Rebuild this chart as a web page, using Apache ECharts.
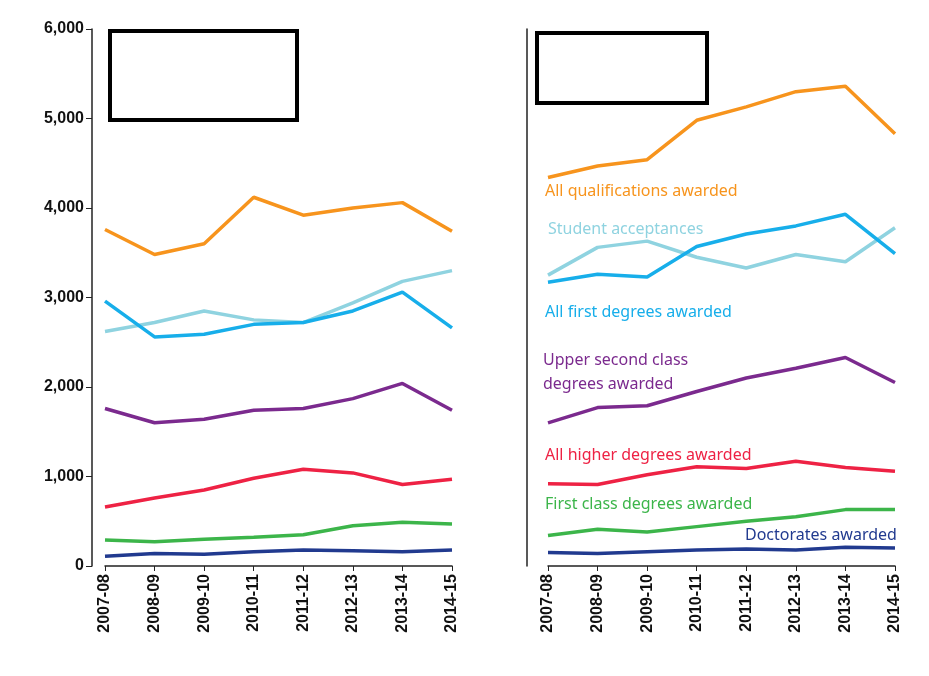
<html>
<head>
<script src="https://cdn.jsdelivr.net/npm/echarts@6/dist/echarts.min.js"></script>
<style>body{margin:0;background:#fff}#chart{width:929px;height:676px}</style>
</head>
<body>
<div id="chart"></div>
<script>
var years = ['2007-08','2008-09','2009-10','2010-11','2011-12','2012-13','2013-14','2014-15'];
var yTicks = [0,1000,2000,3000,4000,5000,6000];
var seriesNames = ['All qualifications awarded','Student acceptances','All first degrees awarded','Upper second class degrees awarded','All higher degrees awarded','First class degrees awarded','Doctorates awarded'];
var colors = ['#f7941d','#8fd3e0','#17aeea','#7b2a8e','#ee2244','#3cb54a','#213a8f'];
// left panel
var leftQual = [3760,3480,3600,4120,3920,4000,4060,3740];
var leftAccept = [2620,2720,2850,2750,2720,2940,3180,3300];
var leftFirst = [2960,2560,2590,2700,2720,2850,3060,2660];
var leftUpper = [1760,1600,1640,1740,1760,1870,2040,1740];
var leftHigher = [660,760,850,980,1080,1040,910,970];
var leftFirstClass = [290,270,300,320,350,450,490,470];
var leftDoct = [110,140,130,160,180,170,160,180];
// right panel
var rightQual = [4340,4470,4540,4980,5130,5300,5360,4830];
var rightAccept = [3250,3560,3630,3450,3330,3480,3400,3780];
var rightFirst = [3170,3260,3230,3570,3710,3800,3930,3490];
var rightUpper = [1600,1770,1790,1950,2100,2210,2330,2050];
var rightHigher = [920,910,1020,1110,1090,1170,1100,1060];
var rightFirstClass = [340,410,380,440,500,550,630,630];
var rightDoct = [150,140,160,180,190,180,210,200];

var leftData = [leftQual,leftAccept,leftFirst,leftUpper,leftHigher,leftFirstClass,leftDoct];
var rightData = [rightQual,rightAccept,rightFirst,rightUpper,rightHigher,rightFirstClass,rightDoct];

var chart = echarts.init(document.getElementById('chart'));
var axisX = function(i){
	return {
		type:'category', gridIndex:i, data:years, boundaryGap:false,
		axisLine:{lineStyle:{color:'#222',width:1.5}},
		axisTick:{show:true,interval:0,lineStyle:{color:'#222'}},
		axisLabel:{rotate:90,fontWeight:'bold',fontSize:16,color:'#111',fontFamily:'Liberation Sans',interval:0}
	};
};
var axisY = function(i,off,labels){
	return {
		type:'value', gridIndex:i, min:0, max:6000, interval:1000, offset:off,
		axisLine:{show:true,lineStyle:{color:'#222',width:1.5}},
		axisTick:{show:labels,length:6,lineStyle:{color:'#222'}},
		splitLine:{show:false},
		axisLabel:{show:labels,fontWeight:'bold',fontSize:16,color:'#111',fontFamily:'Liberation Sans',
			formatter:function(v){return yTicks.indexOf(v)>=0?v.toLocaleString('en-US'):'';}}
	};
};
var series = [];
[leftData,rightData].forEach(function(set,g){
	set.forEach(function(d,k){
		series.push({name:seriesNames[k],type:'line',xAxisIndex:g,yAxisIndex:g,data:d,
			symbol:'none',lineStyle:{color:colors[k],width:3.5},silent:true});
	});
});
var txt = function(x,y,s,c){
	return {type:'text',left:x,top:y,style:{text:s,fill:c,fontSize:16,fontFamily:'Noto Sans'}};
};
chart.setOption({
	animation:false,
	grid:[{left:105,top:29,width:347,height:537},{left:548,top:29,width:347,height:537}],
	xAxis:[axisX(0),axisX(1)],
	yAxis:[axisY(0,13,true),axisY(1,21,false)],
	series:series,
	graphic:[
		{type:'rect',shape:{x:110,y:31,width:187,height:89},style:{fill:'none',stroke:'#000',lineWidth:4}},
		{type:'rect',shape:{x:537,y:33,width:170,height:70},style:{fill:'none',stroke:'#000',lineWidth:4}},
		txt(545,178,'All qualifications awarded',colors[0]),
		txt(548,216,'Student acceptances',colors[1]),
		txt(545,299,'All first degrees awarded',colors[2]),
		txt(543,347,'Upper second class',colors[3]),
		txt(543,371,'degrees awarded',colors[3]),
		txt(545,442,'All higher degrees awarded',colors[4]),
		txt(545,491,'First class degrees awarded',colors[5]),
		txt(745,522,'Doctorates awarded',colors[6])
	]
});
</script>
</body>
</html>
